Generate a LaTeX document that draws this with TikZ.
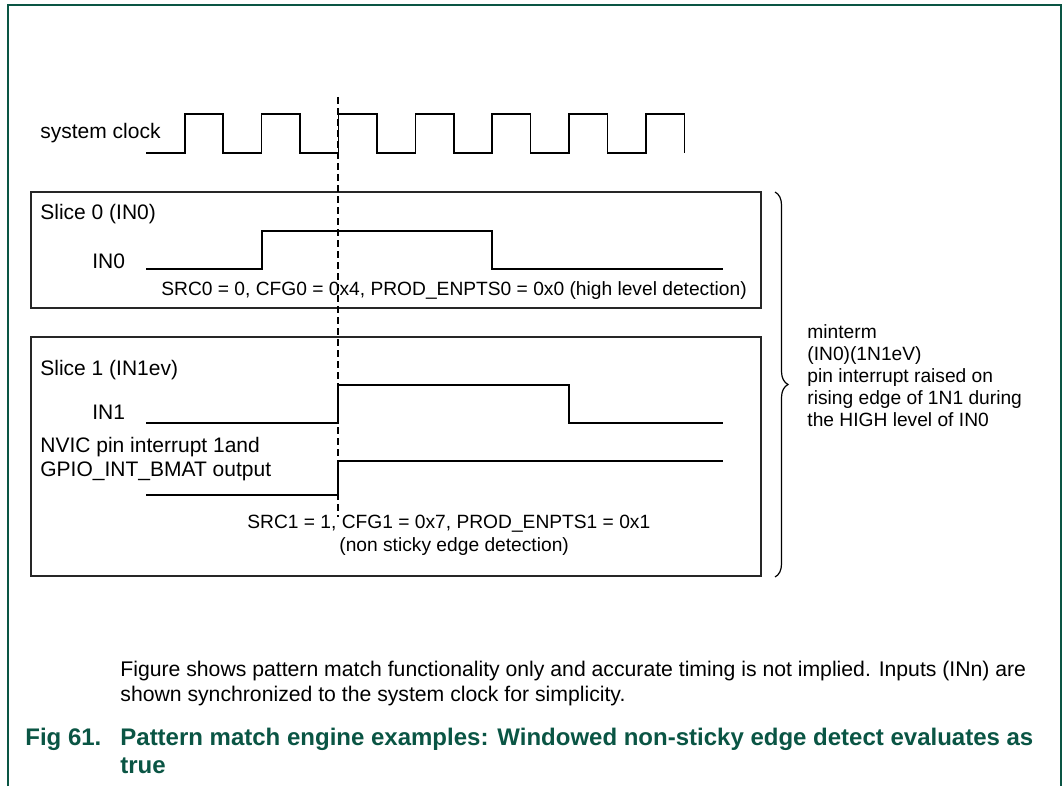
\documentclass[tikz,border=0pt]{standalone}
\usepackage{fontspec}
\setmainfont{Liberation Sans}
\usetikzlibrary{decorations.pathreplacing}
\definecolor{figgreen}{HTML}{0A5544}

\begin{document}
\begin{tikzpicture}[
  x=0.5pt, y=-0.5pt,
  sigtext/.style={
    anchor=base west,
    inner sep=0pt,
    font=\fontsize{10.5}{12.6}\selectfont
  },
  cfgtext/.style={
    sigtext,
    font=\fontsize{9.6}{11.5}\selectfont
  },
  notetext/.style={
    anchor=base west,
    inner sep=0pt,
    font=\fontsize{10.6}{12.5}\selectfont
  },
  figtitle/.style={
    anchor=base west,
    inner sep=0pt,
    text=figgreen,
    font=\fontsize{12}{14}\selectfont\bfseries
  },
  wave/.style={line width=0.8pt, line join=miter},
  slicebox/.style={draw=black!85, line width=0.7pt},
  marker/.style={dash pattern=on 3.5pt off 2pt, line width=0.6pt},
  frame/.style={draw=figgreen, line width=1pt},
  minbrace/.style={decorate, decoration={brace, amplitude=6.5pt}, line width=0.6pt}
]
  \useasboundingbox (0,0) rectangle (1063,786);
  \draw[frame] (8,786) -- (8,5) -- (1061,5) -- (1061,786);

  % clock
  \node[sigtext] (clk) at (40,139) {system clock};
  \draw[wave] (146,153) \foreach \k in {0,...,6}{
    -- ({184.8+76.85*\k},153) -- ++(0,-39) -- ++(38.4,0) -- ++(0,39)};

  % slice 0
  \draw[slicebox] (31,192) rectangle (761,308);
  \coordinate (btop) at (775,192);
  \node[sigtext] (s0) at (40,220) {Slice 0 (IN0)};
  \node[sigtext] (in0) at (92,268) {IN0};
  \draw[wave] (146,269) -- (262,269) -- (262,231) -- (492,231) -- (492,269) -- (723,269);
  \node[cfgtext] (cfg0) at (161,295) {SRC0 = 0, CFG0 = 0x4, PROD\_ENPTS0 = 0x0 (high level detection)};

  % slice 1
  \draw[slicebox] (31,337) rectangle (761,576);
  \coordinate (bbot) at (775,577);
  \node[sigtext] (s1) at (40,375) {Slice 1 (IN1ev)};
  \node[sigtext] (in1) at (92,419) {IN1};
  \draw[wave] (146,423) -- (338,423) -- (338,385) -- (569,385) -- (569,423) -- (723,423);
  \node[sigtext] (nvic) at (40,452) {NVIC pin interrupt 1and};
  \node[sigtext] (gpio) at (40,476) {GPIO\_INT\_BMAT output};
  \draw[wave] (146,495) -- (338,495) -- (338,461) -- (723,461);
  \node[cfgtext] (cfg1) at (247,528) {SRC1 = 1, CFG1 = 0x7, PROD\_ENPTS1 = 0x1};
  \node[cfgtext] (mode1) at (339,551) {(non sticky edge detection)};

  \coordinate (mtop) at (338,97);
  \coordinate (mbot) at (338,517);
  \draw[marker] (mtop) -- (mbot);

  % minterm
  \draw[minbrace] (btop) -- (bbot);
  \foreach \txt [count=\i] in {minterm, (IN0)(1N1eV), pin interrupt raised on,
      rising edge of 1N1 during, the HIGH level of IN0}
    \node[cfgtext] (mt\i) at (807,{316+22*\i}) {\txt};

  % caption
  \node[notetext] (note1) at (120,676) {Figure shows pattern match functionality only and accurate timing is not implied. Inputs (INn) are};
  \node[notetext] (note2) at (120,701) {shown synchronized to the system clock for simplicity.};
  \node[figtitle] (fignum) at (25,745) {Fig 61.};
  \node[figtitle] (fig1) at (120,745) {Pattern match engine examples: Windowed non-sticky edge detect evaluates as};
  \node[figtitle] (fig2) at (120,773) {true};
\end{tikzpicture}
\end{document}
